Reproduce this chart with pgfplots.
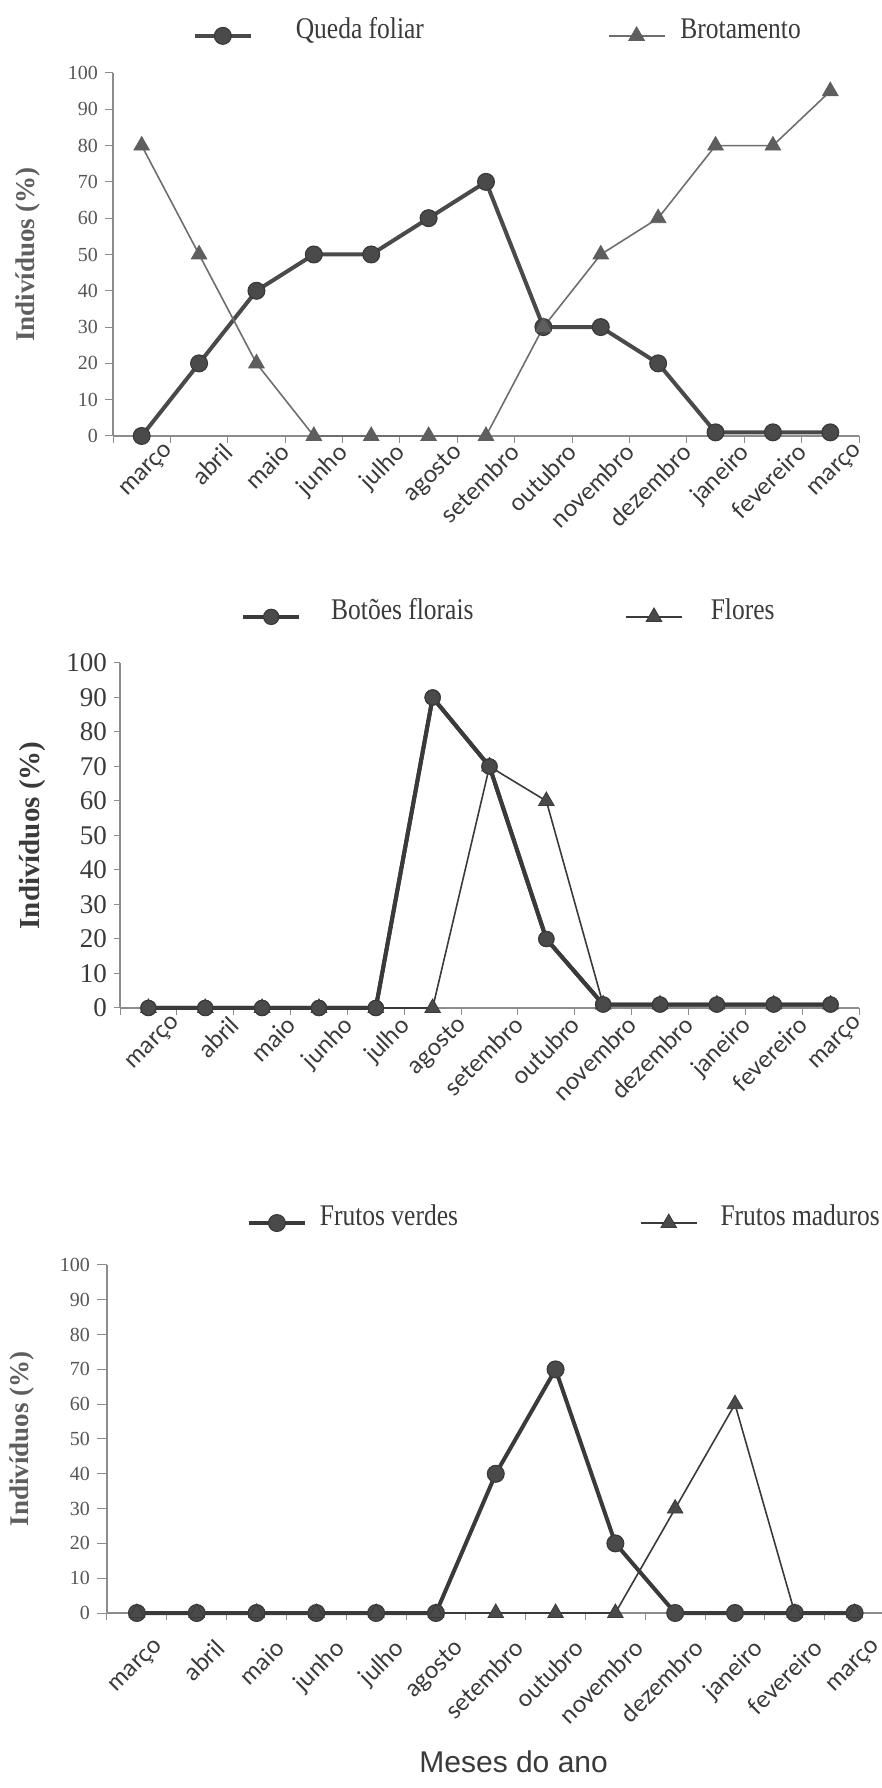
\documentclass[border=0pt]{standalone}
\usepackage{fontspec}
\setmainfont{Liberation Serif}
\newfontfamily\legfont[FakeStretch=0.85]{Liberation Serif}
\newfontfamily\tickfont{Lato}
\newfontfamily\arialfont{Liberation Sans}
\usepackage{pgfplots}
\pgfplotsset{compat=1.18}
\definecolor{axisgray}{HTML}{8C8C8C}
\definecolor{textgray}{HTML}{3A3A3A}
\definecolor{numgray}{HTML}{555555}
\definecolor{dk}{HTML}{4A4A4A}
\definecolor{dkline}{HTML}{3A3A3A}
\definecolor{md}{HTML}{5E5E5E}
\definecolor{lt}{HTML}{6E6E6E}

\pgfplotstableread{
x qf br
0 0 80
1 20 50
2 40 20
3 50 0
4 50 0
5 60 0
6 70 0
7 30 30
8 30 50
9 20 60
10 1 80
11 1 80
12 1 95
}\tabA
\pgfplotstableread{
x bf fl
0 0 0
1 0 0
2 0 0
3 0 0
4 0 0
5 90 0
6 70 70
7 20 60
8 1 1
9 1 1
10 1 1
11 1 1
12 1 1
}\tabB
\pgfplotstableread{
x fv fm
0 0 0
1 0 0
2 0 0
3 0 0
4 0 0
5 0 0
6 40 0
7 70 0
8 20 0
9 0 30
10 0 60
11 0 0
12 0 0
}\tabC

\pgfplotsset{
  phen/.style={
    scale only axis, clip=false,
    xmin=-0.5, xmax=12.5, ymin=0, ymax=100,
    axis x line*=bottom, axis y line*=left,
    axis line style={draw=axisgray, line width=0.6pt},
    xtick={0,...,12},
    xticklabels={março,abril,maio,junho,julho,agosto,setembro,outubro,novembro,dezembro,janeiro,fevereiro,março},
    major x tick style={draw=none},
    minor xtick={-0.5,0.5,...,12.5},
    ytick={0,10,...,100},
    tick align=outside,
    tick style={draw=axisgray, line width=0.5pt},
    major tick length=4pt, minor tick length=3.5pt,
    /pgf/number format/assume math mode=true,
    xticklabel style={font=\tickfont\fontsize{12}{14}\selectfont, text=textgray, rotate=45, anchor=north east, inner sep=1pt},
    yticklabel style={text=numgray},
    legend columns=2,
    legend cell align=left,
    legend style={draw=none, fill=none, inner sep=0pt, outer sep=0pt,
      nodes={inner sep=0pt, text=textgray, font=\legfont\fontsize{15}{18}\selectfont},
      /tikz/column sep=0pt},
    legend image code/.code={\draw[mark repeat=2,mark phase=2,##1] plot coordinates {(0pt,-3pt) (14pt,-3pt) (28pt,-3pt)};},
  },
}

\begin{document}
\begin{tikzpicture}
\useasboundingbox (0,0) rectangle (441pt,894pt);

% ---------- Chart 1 ----------
\begin{axis}[phen,
  at={(56.5pt,676pt)}, anchor=south west,
  width=373pt, height=181.5pt,
  xticklabel style={xshift=10pt, yshift=-6pt},
  yticklabel style={font=\fontsize{10}{12}\selectfont},
  ylabel={\textbf{Indivíduos (\%)}},
  ylabel style={at={(axis description cs:-0.114,0.5)}, anchor=center, font=\fontsize{13.5}{16}\selectfont, text=md},
  legend style={at={(axis description cs:0.107,1.152)}, anchor=north west},
]
\addplot[color=dk, line width=2pt, mark=*, mark size=4.2pt, mark options={fill=dk, draw=dkline, line width=0.6pt}] table[x=x,y=qf]{\tabA};
\addlegendentry{\hspace*{21.5pt}\makebox[65.5pt][l]{Queda foliar}\hspace*{90.5pt}}
\addplot[color=lt, line width=0.8pt, mark=triangle*, mark size=4.5pt, mark options={fill=md, draw=md, line width=0.4pt}] table[x=x,y=br]{\tabA};
\addlegendentry{\hspace*{7.5pt}Brotamento}
\end{axis}

% ---------- Chart 2 ----------
\begin{axis}[phen,
  at={(60pt,390pt)}, anchor=south west,
  width=369.5pt, height=172.5pt,
  major tick length=3pt,
  xticklabel style={xshift=9pt, yshift=-7pt},
  yticklabel style={font=\fontsize{13.5}{16}\selectfont, text=textgray},
  ylabel={\textbf{Indivíduos (\%)}},
  ylabel style={at={(axis description cs:-0.119,0.5)}, anchor=center, font=\fontsize{14.5}{17}\selectfont, text=textgray},
  legend style={at={(axis description cs:0.164,1.186)}, anchor=north west},
]
\addplot[color=dkline, line width=2pt, mark=*, mark size=3.8pt, mark options={fill=dk, draw=dkline, line width=0.6pt}] table[x=x,y=bf]{\tabB};
\addlegendentry{\hspace*{15pt}\makebox[73pt][l]{Botões florais}\hspace*{74pt}}
\addplot[color=dkline, line width=0.8pt, mark=triangle*, mark size=4.5pt, mark options={fill=dk, draw=dkline, line width=0.4pt}] table[x=x,y=fl]{\tabB};
\addlegendentry{\hspace*{14pt}Flores}
\addplot[color=dkline, line width=2pt, mark=*, mark size=3.8pt, mark options={fill=dk, draw=dkline, line width=0.6pt}, forget plot] table[x=x,y=bf]{\tabB};
\end{axis}

% ---------- Chart 3 ----------
\begin{axis}[phen,
  at={(53.5pt,87.5pt)}, anchor=south west,
  width=388.75pt, height=174pt,
  major tick length=5pt,
  xticklabel style={font=\tickfont\fontsize{12}{14}\selectfont, xshift=2pt, yshift=-10pt},
  yticklabel style={font=\fontsize{10}{12}\selectfont, text=numgray},
  ylabel={\textbf{Indivíduos (\%)}},
  ylabel style={at={(axis description cs:-0.109,0.5)}, anchor=center, font=\fontsize{13.5}{16}\selectfont, text=md},
  xlabel={Meses do ano},
  xlabel style={at={(axis description cs:0.523,-0.428)}, anchor=center, font=\arialfont\fontsize{15}{18}\selectfont, text=textgray},
  legend style={at={(axis description cs:0.180,1.172)}, anchor=north west},
]
\addplot[color=dkline, line width=2pt, mark=*, mark size=4.2pt, mark options={fill=dk, draw=dkline, line width=0.6pt}] table[x=x,y=fv]{\tabC};
\addlegendentry{\hspace*{6.5pt}\makebox[70pt][l]{Frutos verdes}\hspace*{90pt}}
\addplot[color=dkline, line width=0.8pt, mark=triangle*, mark size=4.5pt, mark options={fill=dk, draw=dkline, line width=0.4pt}] table[x=x,y=fm]{\tabC};
\addlegendentry{\hspace*{11.5pt}Frutos maduros}
\end{axis}
\end{tikzpicture}
\end{document}
